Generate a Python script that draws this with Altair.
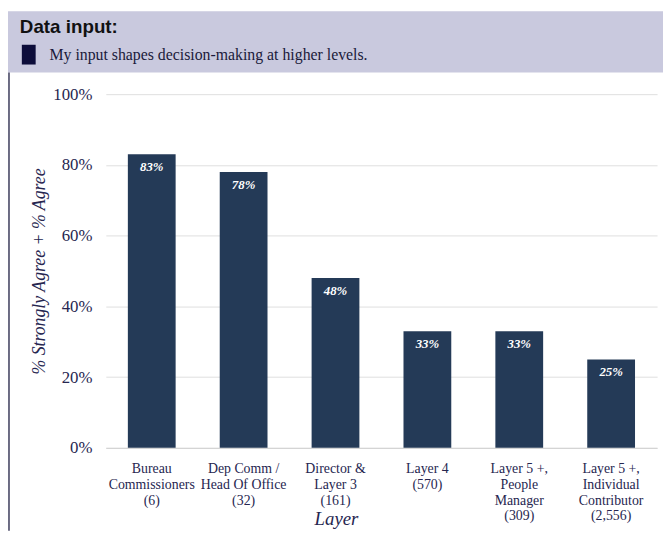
import altair as alt
import pandas as pd

categories = [
    "Bureau|Commissioners|(6)",
    "Dep Comm /|Head Of Office|(32)",
    "Director &|Layer 3|(161)",
    "Layer 4|(570)",
    "Layer 5 +,|People|Manager|(309)",
    "Layer 5 +,|Individual|Contributor|(2,556)",
]
values = [0.83, 0.78, 0.48, 0.33, 0.33, 0.25]
y_ticks = [0, 0.2, 0.4, 0.6, 0.8, 1.0]

title_text = "Data input:"
legend_text = "My input shapes decision-making at higher levels."

df = pd.DataFrame({"layer": categories, "value": values})
one = pd.DataFrame({"k": [0]})

SERIF = "Liberation Serif"
NAVY = "#243a57"
TXT = "#262650"

base = alt.Chart(df)

bars = base.mark_bar(color=NAVY).encode(
    x=alt.X(
        "layer:N",
        sort=categories,
        scale=alt.Scale(paddingInner=0.48, paddingOuter=0.24),
        axis=alt.Axis(
            title="Layer",
            labelAngle=0,
            labelExpr="split(datum.label, '|')",
            labelFont=SERIF,
            labelFontSize=14,
            labelColor=TXT,
            labelLineHeight=16,
            labelPadding=14,
            labelBaseline="top",
            ticks=False,
            domainColor="#d0d0d0",
            titleFont=SERIF,
            titleFontStyle="italic",
            titleFontWeight="normal",
            titleFontSize=19,
            titleColor=TXT,
            titleX=233,
            titleY=78,
            titleBaseline="alphabetic",
        ),
    ),
    y=alt.Y(
        "value:Q",
        scale=alt.Scale(domain=[0, 1]),
        axis=alt.Axis(
            title="% Strongly Agree + % Agree",
            values=y_ticks,
            format=".0%",
            labelFont=SERIF,
            labelFontSize=17,
            labelColor=TXT,
            labelPadding=14,
            ticks=False,
            domain=False,
            gridColor="#dedede",
            titleFont=SERIF,
            titleFontStyle="italic",
            titleFontWeight="normal",
            titleFontSize=18,
            titleColor=TXT,
            titleX=-67,
            titleY=179,
            titleAngle=270,
            titleBaseline="middle",
        ),
    ),
)

labels = base.mark_text(
    color="white", font=SERIF, fontStyle="italic", fontWeight="bold",
    fontSize=13, baseline="top", dy=7,
).encode(
    x=alt.X("layer:N", sort=categories),
    y="value:Q",
    text=alt.Text("value:Q", format=".0%"),
)

band = alt.Chart(one).mark_rect(color="#c9c9de").encode(
    x=alt.value(-99), x2=alt.value(564), y=alt.value(-84), y2=alt.value(-22)
)
vline = alt.Chart(one).mark_rule(color="#3a3a5a", strokeWidth=1.5).encode(
    x=alt.value(-98), y=alt.value(-22), y2=alt.value(442)
)
title = alt.Chart(one).mark_text(
    text=title_text, font="Liberation Sans", fontWeight="bold", fontSize=19,
    align="left", baseline="alphabetic", color="#111111",
).encode(x=alt.value(-87), y=alt.value(-62))
sq = alt.Chart(one).mark_rect(color="#0d0d3a").encode(
    x=alt.value(-85), x2=alt.value(-71), y=alt.value(-50), y2=alt.value(-30)
)
leg = alt.Chart(one).mark_text(
    text=legend_text, font=SERIF, fontSize=16, align="left", baseline="middle",
    color="#1a1a3a",
).encode(x=alt.value(-57), y=alt.value(-40))

chart = alt.layer(band, vline, title, sq, leg, bars, labels).properties(
    width=558, height=358,
    autosize=alt.AutoSizeParams(type="none"),
    padding={"left": 99, "top": 84, "right": 6, "bottom": 84},
    background="white",
).configure_view(stroke=None)

chart.save("out.html", embed_options={"renderer": "svg", "actions": False})
